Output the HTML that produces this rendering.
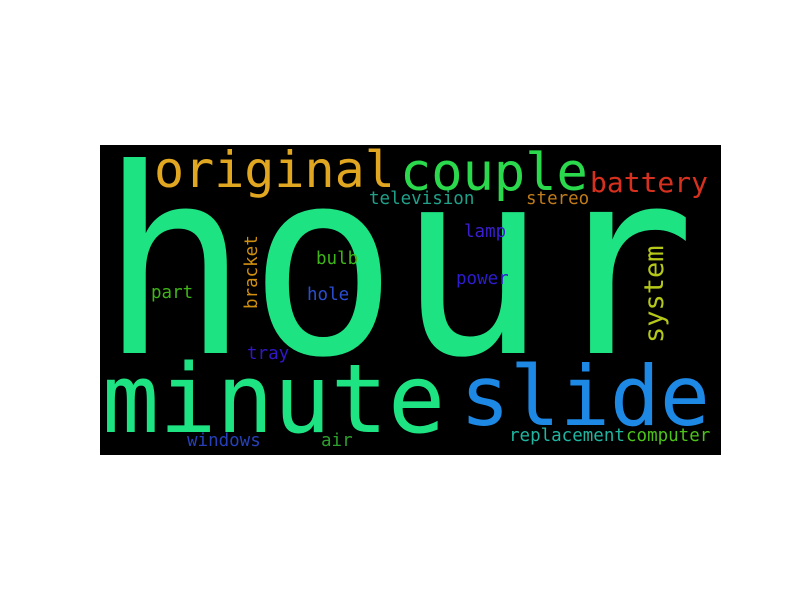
<!DOCTYPE html>
<html><head><meta charset="utf-8"><style>
html,body{margin:0;padding:0;background:#fff;width:800px;height:600px;overflow:hidden}
svg text{font-family:"DejaVu Sans Mono","Liberation Mono",monospace}
</style></head><body>
<svg width="800" height="600">
<rect x="100" y="145" width="621" height="310" fill="#000"/>
<text transform="translate(100,353) scale(0.958,1)" font-size="258" fill="#1ee383">hour</text>
<text x="102" y="432" font-size="95" fill="#1ee383">minute</text>
<text x="460" y="425" font-size="83" fill="#1e88e5">slide</text>
<text x="154" y="187" font-size="50" fill="#e1a720">original</text>
<text x="400" y="190" font-size="52" fill="#2ad94c">couple</text>
<text x="590" y="192" font-size="28" fill="#d8301e">battery</text>
<text x="369" y="204" font-size="17.5" fill="#1fa18a">television</text>
<text x="526" y="204" font-size="17.5" fill="#c07b1a">stereo</text>
<text x="464" y="237" font-size="17.5" fill="#3a1fd0">lamp</text>
<text x="316" y="264" font-size="17.5" fill="#3fb518">bulb</text>
<text x="151" y="298" font-size="17.5" fill="#3fb518">part</text>
<text x="307" y="300" font-size="17.5" fill="#2a4ed1">hole</text>
<text x="456" y="284" font-size="17.5" fill="#2d1cd0">power</text>
<text x="247" y="359" font-size="17.5" fill="#3216c8">tray</text>
<text x="187" y="446" font-size="17.5" fill="#2640b8">windows</text>
<text x="321" y="446" font-size="17.5" fill="#2ca02c">air</text>
<text x="509" y="441" font-size="17.5" fill="#1fb5a0">replacement</text>
<text x="626" y="441" font-size="17.5" fill="#4cc21a">computer</text>
<text transform="translate(257,309) rotate(-90)" font-size="17.5" fill="#d08f10">bracket</text>
<text transform="translate(663,343) rotate(-90)" font-size="27" fill="#b5c81a">system</text>
</svg>
</body></html>
